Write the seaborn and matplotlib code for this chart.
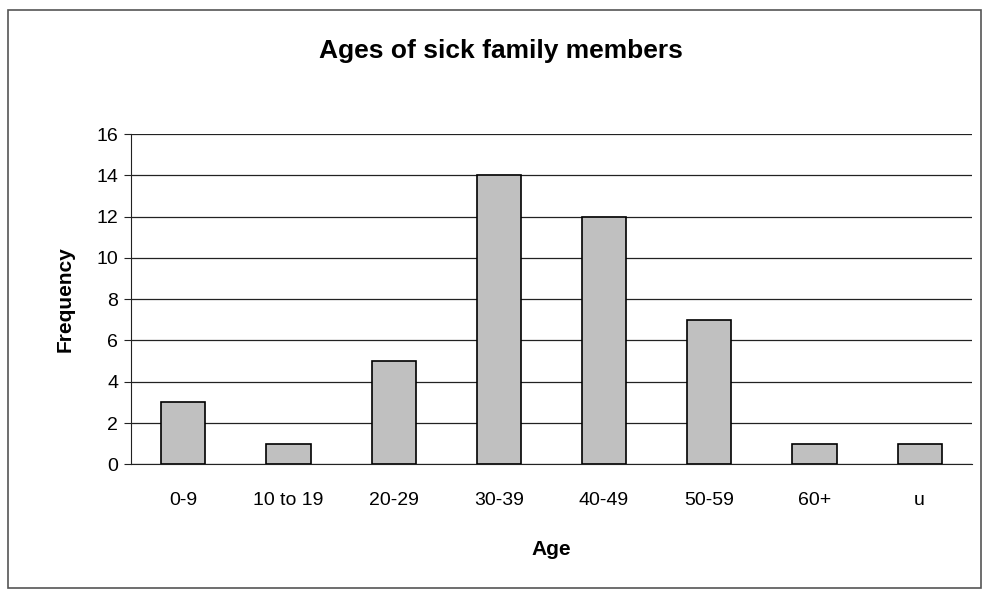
import numpy as np
import pandas as pd
import seaborn as sns
import matplotlib.pyplot as plt
from matplotlib.patches import Rectangle

age_groups = ["0-9", "10 to 19", "20-29", "30-39", "40-49", "50-59", "60+", "u"]
frequency = [3, 1, 5, 14, 12, 7, 1, 1]

df = pd.DataFrame({"Age": age_groups, "Frequency": frequency})

sns.set_style("white", {"text.color": "black", "axes.labelcolor": "black",
                        "xtick.color": "black", "ytick.color": "black"})
plt.rcParams["font.family"] = ["Liberation Sans", "DejaVu Sans"]

fig = plt.figure(figsize=(9.83, 5.93), dpi=100)
ax = fig.add_axes([0.133, 0.217, 0.856, 0.557])

sns.barplot(data=df, x="Age", y="Frequency", color="#c0c0c0", edgecolor="black",
            linewidth=1.2, width=0.42, saturation=1, ax=ax, zorder=3)

ax.set_ylim(0, 16)
ax.set_yticks(np.arange(0, 17, 2))
ax.set_xlim(-0.5, len(age_groups) - 0.5)
ax.yaxis.grid(True, color="#222222", linewidth=0.9)
ax.set_axisbelow(True)

for side in ["top", "right"]:
    ax.spines[side].set_visible(False)
ax.spines["left"].set_color("#222222")
ax.spines["bottom"].set_color("#222222")

# x tick marks sit between the categories
ax.set_xticks(np.arange(-0.5, len(age_groups), 1), minor=True)
ax.tick_params(axis="x", which="major", length=0, pad=20, labelsize=14)
ax.tick_params(axis="x", which="minor", length=5, direction="out", color="#222222")
ax.tick_params(axis="y", length=5, direction="out", color="#222222", labelsize=14, pad=4)
ax.tick_params(left=True, which="major")

ax.set_xlabel("Age", fontsize=15, fontweight="bold", labelpad=22)
ax.set_ylabel("Frequency", fontsize=15, fontweight="bold", labelpad=16)
fig.suptitle("Ages of sick family members", fontsize=19, fontweight="bold", x=0.51, y=0.935)

# chart border
fig.patches.append(Rectangle((0.008, 0.008), 0.99, 0.975, transform=fig.transFigure,
                             fill=False, edgecolor="#555555", linewidth=1.2))

fig.savefig("out.png", dpi=100)
